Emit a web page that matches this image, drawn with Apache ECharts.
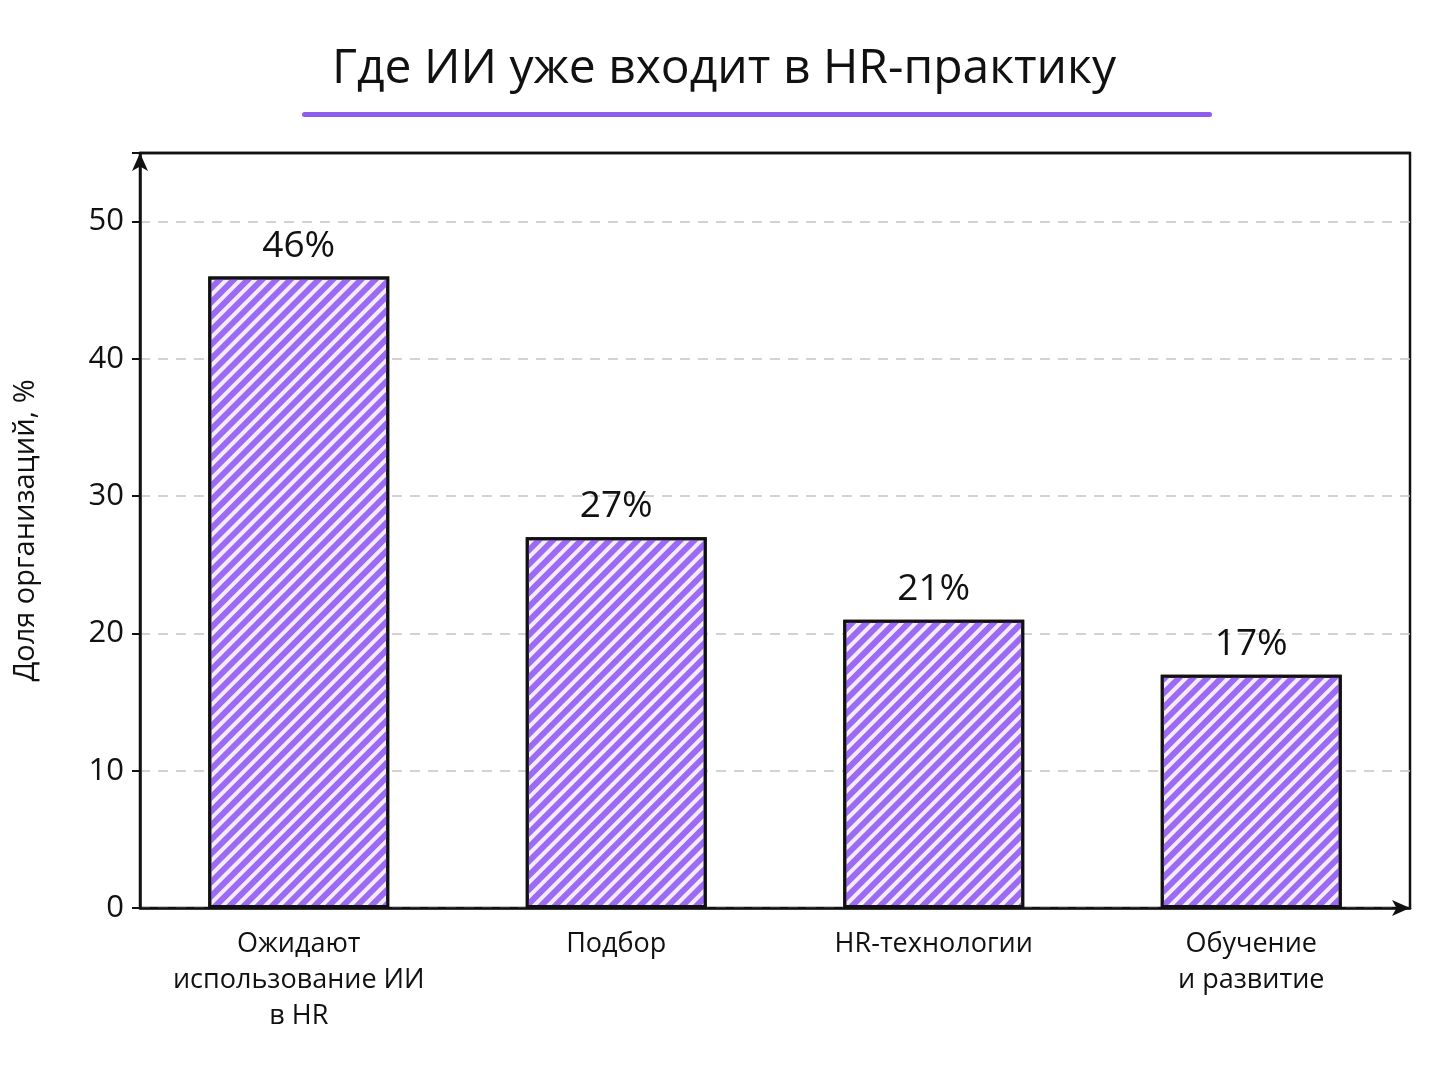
<!DOCTYPE html>
<html><head><meta charset="utf-8">
<script src="https://cdn.jsdelivr.net/npm/echarts@6/dist/echarts.min.js"></script>
<style>html,body{margin:0;padding:0;background:#fff}#c{width:1448px;height:1086px}</style>
</head><body><div id="c"></div>
<script>
const categories = ['Ожидают\nиспользование ИИ\nв HR', 'Подбор', 'HR-технологии', 'Обучение\nи развитие'];
const values = [46, 27, 21, 17];
const labels = ['46%', '27%', '21%', '17%'];
const yTicks = [0, 10, 20, 30, 40, 50];
const F = '"Open Sans", "DejaVu Sans", sans-serif';
const chart = echarts.init(document.getElementById('c'));
chart.setOption({
  backgroundColor: '#fff',
  title: { text: 'Где ИИ уже входит в HR-практику', left: 'center', top: 40,
    textStyle: { fontFamily: F, fontSize: 48, fontWeight: 500, color: '#111' } },
  graphic: [
    { type: 'rect', shape: { x: 302, y: 112, width: 910, height: 5, r: 2.5 }, style: { fill: '#8f5cf0' } },
    { type: 'line', z: 100, shape: { x1: 140, y1: 153, x2: 1410, y2: 153 }, style: { stroke: '#111', lineWidth: 2.5 } }
  ],
  grid: { left: 140, right: 38, top: 153, bottom: 178, show: true, borderColor: '#111', borderWidth: 2.5 },
  xAxis: { type: 'category', data: categories,
    axisLine: { lineStyle: { color: '#111', width: 2.5 }, symbol: ['none', 'arrow'], symbolSize: [12, 18] },
    axisTick: { show: false },
    axisLabel: { interval: 0, fontFamily: F, fontSize: 27, color: '#111', lineHeight: 36, margin: 18 } },
  yAxis: { type: 'value', min: 0, max: 55, interval: 10,
    name: 'Доля организаций, %', nameLocation: 'middle', nameGap: 100, nameRotate: 90,
    nameTextStyle: { fontFamily: F, fontSize: 29, color: '#111' },
    axisLine: { show: true, lineStyle: { color: '#111', width: 2.5 }, symbol: ['none', 'arrow'], symbolSize: [12, 18] },
    axisTick: { show: true, length: 8, lineStyle: { color: '#111', width: 2 } },
    axisLabel: { fontFamily: F, fontSize: 31, color: '#111', margin: 16,
      formatter: v => yTicks.includes(v) ? String(v) : '' },
    splitLine: { lineStyle: { type: [10, 8], color: '#c4c4c4', width: 1.5 } } },
  series: [{ type: 'bar', data: values, barWidth: '57%',
    itemStyle: { color: '#f3ecff', borderColor: '#111', borderWidth: 3,
      decal: { symbol: 'rect', dashArrayX: [1, 0], dashArrayY: [6, 4], rotation: -Math.PI / 4, color: '#9d6bf3' } },
    label: { show: true, position: 'top', distance: 12, fontFamily: F, fontSize: 37, fontWeight: 500, color: '#111',
      formatter: p => labels[p.dataIndex] } }]
});
</script></body></html>
